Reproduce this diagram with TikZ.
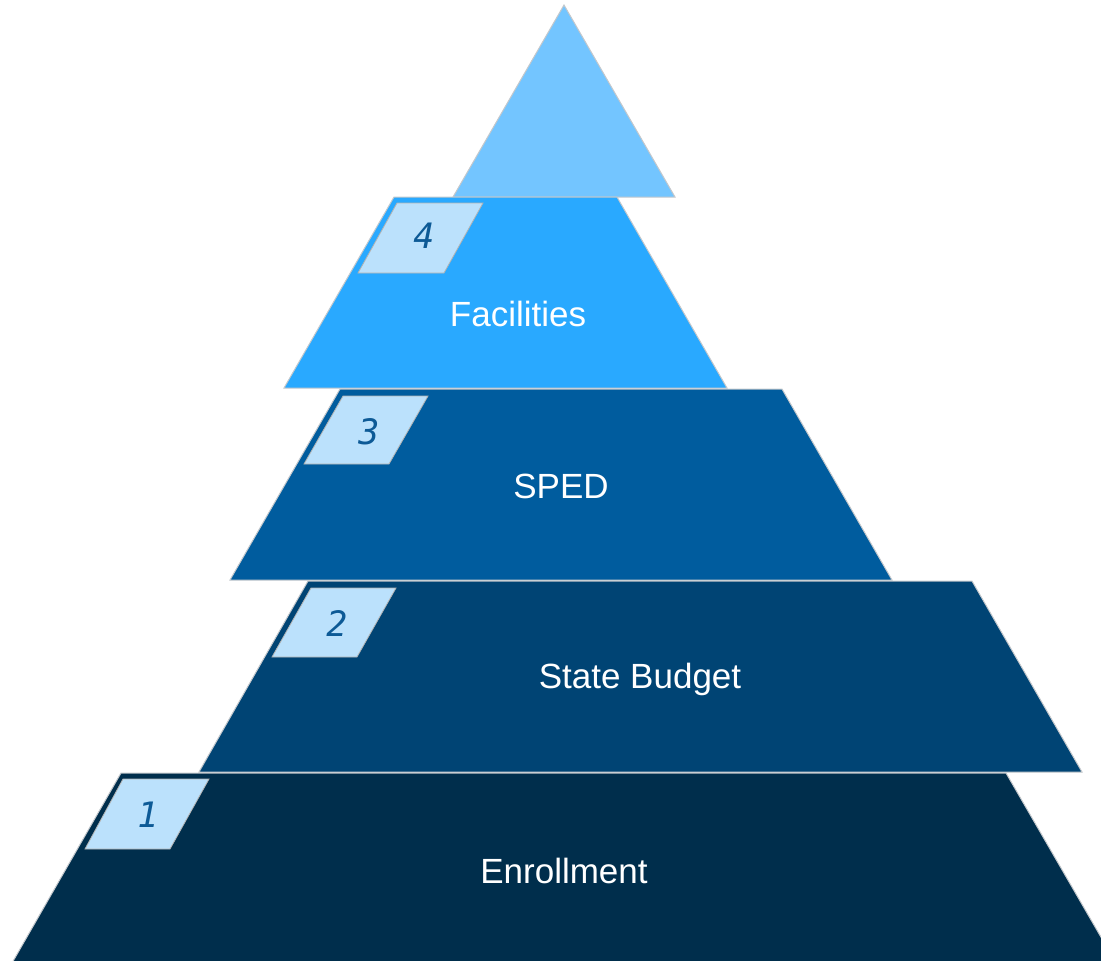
\documentclass[tikz,border=0pt]{standalone}
\usepackage{fontspec}
\setmainfont{Liberation Sans}
\newfontfamily\numfont{DejaVu Sans Mono}
\definecolor{ctop}{HTML}{73C5FF}
\definecolor{cfour}{HTML}{29A9FF}
\definecolor{cthree}{HTML}{005C9E}
\definecolor{ctwo}{HTML}{004474}
\definecolor{cone}{HTML}{002E4C}
\definecolor{cbadge}{HTML}{BBE1FC}
\definecolor{cnum}{HTML}{0D5A96}
\definecolor{cedge}{HTML}{C4C8CC}
\tikzset{
  layer/.style={draw=cedge, line width=1pt, line join=miter},
  badge/.style={fill=cbadge, draw=gray!60, line width=0.8pt},
  numlabel/.style={text=cnum, font=\numfont\itshape\fontsize{35}{35}\selectfont, inner sep=0pt},
  layerlabel/.style={text=white, font=\fontsize{35}{35}\selectfont, inner sep=0pt, anchor=base}
}
\begin{document}
\begin{tikzpicture}[x=1pt,y=-1pt]
\useasboundingbox (0,0) rectangle (1101,961);
\clip (0,0) rectangle (1101,961);
% top triangle
\path[layer, fill=ctop] (564,5) -- (675,197) -- (453,197) -- cycle;
% layer 4
\path[layer, fill=cfour] (394,197) -- (617,197) -- (727,388) -- (284,388) -- cycle;
% layer 3
\path[layer, fill=cthree] (340,389) -- (782,389) -- (892,580) -- (230,580) -- cycle;
% layer 2
\path[layer, fill=ctwo] (308,581) -- (972,581) -- (1082,772) -- (199,772) -- cycle;
% layer 1
\path[layer, fill=cone] (121,773) -- (1006,773) -- (1120,970) -- (8,970) -- cycle;
% badges
\path[badge] (397,203) -- (483,203) -- (444,273) -- (358,273) -- cycle;
\path[badge] (343,396) -- (428,396) -- (389,464) -- (304,464) -- cycle;
\path[badge] (311,588) -- (396,588) -- (357,657) -- (272,657) -- cycle;
\path[badge] (123,779) -- (209,779) -- (170,849) -- (85,849) -- cycle;
\node[numlabel] (n4) at (424,236) {4};
\node[numlabel] (n3) at (369,432) {3};
\node[numlabel] (n2) at (337,624) {2};
\node[numlabel] (n1) at (148,815) {1};
% labels
\node[layerlabel] (l4) at (518,326) {Facilities};
\node[layerlabel] (l3) at (561,498) {SPED};
\node[layerlabel] (l2) at (640,688) {State Budget};
\node[layerlabel] (l1) at (564,883) {Enrollment};
\end{tikzpicture}
\end{document}
